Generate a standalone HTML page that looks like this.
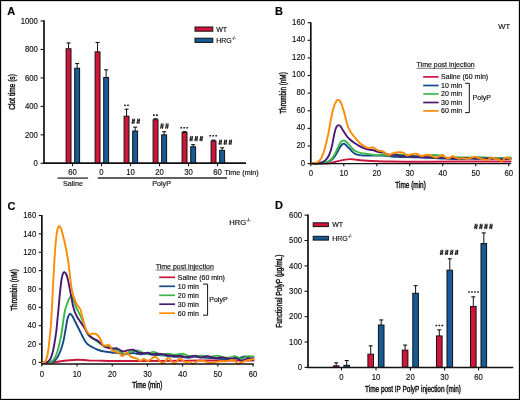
<!DOCTYPE html>
<html><head><meta charset="utf-8"><style>
html,body{margin:0;padding:0;background:#fff;}
body{width:520px;height:400px;overflow:hidden;}
svg{display:block;font-family:"Liberation Sans", sans-serif;will-change:transform;}
text{stroke:currentColor;stroke-width:0.15px;paint-order:stroke;}
text.ttl{stroke-width:0.4px;}
</style></head><body>
<svg width="520" height="400" viewBox="0 0 520 400">
<rect x="0" y="0" width="520" height="400" fill="#fff"/>
<text x="7.30" y="15.20" font-size="11" text-anchor="start" fill="#000" font-weight="bold" >A</text>
<line x1="44.00" y1="20.30" x2="44.00" y2="164.00" stroke="#111" stroke-width="1.7"/>
<line x1="43.20" y1="163.30" x2="246.00" y2="163.30" stroke="#111" stroke-width="1.5"/>
<line x1="40.60" y1="163.30" x2="44.00" y2="163.30" stroke="#111" stroke-width="1.1"/>
<text x="37.90" y="166.10" font-size="8.5" text-anchor="end" fill="#111" textLength="4.30" lengthAdjust="spacingAndGlyphs" >0</text>
<line x1="40.60" y1="134.84" x2="44.00" y2="134.84" stroke="#111" stroke-width="1.1"/>
<text x="37.90" y="137.64" font-size="8.5" text-anchor="end" fill="#111" textLength="12.90" lengthAdjust="spacingAndGlyphs" >200</text>
<line x1="40.60" y1="106.38" x2="44.00" y2="106.38" stroke="#111" stroke-width="1.1"/>
<text x="37.90" y="109.18" font-size="8.5" text-anchor="end" fill="#111" textLength="12.90" lengthAdjust="spacingAndGlyphs" >400</text>
<line x1="40.60" y1="77.92" x2="44.00" y2="77.92" stroke="#111" stroke-width="1.1"/>
<text x="37.90" y="80.72" font-size="8.5" text-anchor="end" fill="#111" textLength="12.90" lengthAdjust="spacingAndGlyphs" >600</text>
<line x1="40.60" y1="49.46" x2="44.00" y2="49.46" stroke="#111" stroke-width="1.1"/>
<text x="37.90" y="52.26" font-size="8.5" text-anchor="end" fill="#111" textLength="12.90" lengthAdjust="spacingAndGlyphs" >800</text>
<line x1="40.60" y1="21.00" x2="44.00" y2="21.00" stroke="#111" stroke-width="1.1"/>
<text x="37.90" y="23.80" font-size="8.5" text-anchor="end" fill="#111" textLength="17.20" lengthAdjust="spacingAndGlyphs" >1000</text>
<text class="ttl" transform="translate(15.00,91.90) rotate(-90)" x="0" y="0" font-size="9" text-anchor="middle" fill="#111" textLength="35.5" lengthAdjust="spacingAndGlyphs">Clot time (s)</text>
<line x1="72.50" y1="163.30" x2="72.50" y2="166.20" stroke="#111" stroke-width="1.1"/>
<text x="72.50" y="175.00" font-size="8.5" text-anchor="middle" fill="#111" textLength="8.60" lengthAdjust="spacingAndGlyphs" >60</text>
<line x1="68.55" y1="48.75" x2="68.55" y2="42.91" stroke="#111" stroke-width="1"/>
<line x1="66.55" y1="42.91" x2="70.55" y2="42.91" stroke="#111" stroke-width="1.1"/>
<rect x="66.10" y="48.75" width="4.9" height="114.55" fill="#D3143A" stroke="#111" stroke-width="1"/>
<line x1="77.15" y1="68.24" x2="77.15" y2="63.55" stroke="#111" stroke-width="1"/>
<line x1="75.15" y1="63.55" x2="79.15" y2="63.55" stroke="#111" stroke-width="1.1"/>
<rect x="74.70" y="68.24" width="4.9" height="95.06" fill="#175A95" stroke="#111" stroke-width="1"/>
<line x1="101.50" y1="163.30" x2="101.50" y2="166.20" stroke="#111" stroke-width="1.1"/>
<text x="101.50" y="175.00" font-size="8.5" text-anchor="middle" fill="#111" textLength="4.30" lengthAdjust="spacingAndGlyphs" >0</text>
<line x1="97.55" y1="51.88" x2="97.55" y2="42.49" stroke="#111" stroke-width="1"/>
<line x1="95.55" y1="42.49" x2="99.55" y2="42.49" stroke="#111" stroke-width="1.1"/>
<rect x="95.10" y="51.88" width="4.9" height="111.42" fill="#D3143A" stroke="#111" stroke-width="1"/>
<line x1="106.15" y1="77.49" x2="106.15" y2="69.81" stroke="#111" stroke-width="1"/>
<line x1="104.15" y1="69.81" x2="108.15" y2="69.81" stroke="#111" stroke-width="1.1"/>
<rect x="103.70" y="77.49" width="4.9" height="85.81" fill="#175A95" stroke="#111" stroke-width="1"/>
<line x1="130.50" y1="163.30" x2="130.50" y2="166.20" stroke="#111" stroke-width="1.1"/>
<text x="130.50" y="175.00" font-size="8.5" text-anchor="middle" fill="#111" textLength="8.60" lengthAdjust="spacingAndGlyphs" >10</text>
<line x1="126.55" y1="116.20" x2="126.55" y2="109.23" stroke="#111" stroke-width="1"/>
<line x1="124.55" y1="109.23" x2="128.55" y2="109.23" stroke="#111" stroke-width="1.1"/>
<rect x="124.10" y="116.20" width="4.9" height="47.10" fill="#D3143A" stroke="#111" stroke-width="1"/>
<line x1="135.15" y1="131.00" x2="135.15" y2="127.16" stroke="#111" stroke-width="1"/>
<line x1="133.15" y1="127.16" x2="137.15" y2="127.16" stroke="#111" stroke-width="1.1"/>
<rect x="132.70" y="131.00" width="4.9" height="32.30" fill="#175A95" stroke="#111" stroke-width="1"/>
<line x1="159.50" y1="163.30" x2="159.50" y2="166.20" stroke="#111" stroke-width="1.1"/>
<text x="159.50" y="175.00" font-size="8.5" text-anchor="middle" fill="#111" textLength="8.60" lengthAdjust="spacingAndGlyphs" >20</text>
<line x1="155.55" y1="119.76" x2="155.55" y2="118.76" stroke="#111" stroke-width="1"/>
<line x1="153.55" y1="118.76" x2="157.55" y2="118.76" stroke="#111" stroke-width="1.1"/>
<rect x="153.10" y="119.76" width="4.9" height="43.54" fill="#D3143A" stroke="#111" stroke-width="1"/>
<line x1="164.15" y1="134.84" x2="164.15" y2="131.71" stroke="#111" stroke-width="1"/>
<line x1="162.15" y1="131.71" x2="166.15" y2="131.71" stroke="#111" stroke-width="1.1"/>
<rect x="161.70" y="134.84" width="4.9" height="28.46" fill="#175A95" stroke="#111" stroke-width="1"/>
<line x1="188.50" y1="163.30" x2="188.50" y2="166.20" stroke="#111" stroke-width="1.1"/>
<text x="188.50" y="175.00" font-size="8.5" text-anchor="middle" fill="#111" textLength="8.60" lengthAdjust="spacingAndGlyphs" >30</text>
<line x1="184.55" y1="132.56" x2="184.55" y2="131.57" stroke="#111" stroke-width="1"/>
<line x1="182.55" y1="131.57" x2="186.55" y2="131.57" stroke="#111" stroke-width="1.1"/>
<rect x="182.10" y="132.56" width="4.9" height="30.74" fill="#D3143A" stroke="#111" stroke-width="1"/>
<line x1="193.15" y1="146.79" x2="193.15" y2="144.66" stroke="#111" stroke-width="1"/>
<line x1="191.15" y1="144.66" x2="195.15" y2="144.66" stroke="#111" stroke-width="1.1"/>
<rect x="190.70" y="146.79" width="4.9" height="16.51" fill="#175A95" stroke="#111" stroke-width="1"/>
<line x1="217.50" y1="163.30" x2="217.50" y2="166.20" stroke="#111" stroke-width="1.1"/>
<text x="217.50" y="175.00" font-size="8.5" text-anchor="middle" fill="#111" textLength="8.60" lengthAdjust="spacingAndGlyphs" >60</text>
<line x1="213.55" y1="140.96" x2="213.55" y2="140.11" stroke="#111" stroke-width="1"/>
<line x1="211.55" y1="140.11" x2="215.55" y2="140.11" stroke="#111" stroke-width="1.1"/>
<rect x="211.10" y="140.96" width="4.9" height="22.34" fill="#D3143A" stroke="#111" stroke-width="1"/>
<line x1="222.15" y1="150.35" x2="222.15" y2="147.79" stroke="#111" stroke-width="1"/>
<line x1="220.15" y1="147.79" x2="224.15" y2="147.79" stroke="#111" stroke-width="1.1"/>
<rect x="219.70" y="150.35" width="4.9" height="12.95" fill="#175A95" stroke="#111" stroke-width="1"/>
<line x1="43.20" y1="163.30" x2="246.00" y2="163.30" stroke="#111" stroke-width="1.5"/>
<text x="224.60" y="174.90" font-size="7.2" text-anchor="start" fill="#111" >Time (min)</text>
<line x1="57.50" y1="178.10" x2="88.10" y2="178.10" stroke="#2a2a2a" stroke-width="1.3"/>
<line x1="97.80" y1="178.00" x2="227.00" y2="178.00" stroke="#2a2a2a" stroke-width="1.3"/>
<text x="72.90" y="186.40" font-size="7.2" text-anchor="middle" fill="#111" >Saline</text>
<text x="161.60" y="186.40" font-size="7.2" text-anchor="middle" fill="#111" >PolyP</text>
<rect x="124.05" y="104.55" width="1.8" height="1.53" rx="0.5" fill="#1a1a1a"/>
<rect x="127.05" y="104.55" width="1.8" height="1.53" rx="0.5" fill="#1a1a1a"/>
<rect x="153.00" y="114.35" width="1.8" height="1.53" rx="0.5" fill="#1a1a1a"/>
<rect x="156.00" y="114.35" width="1.8" height="1.53" rx="0.5" fill="#1a1a1a"/>
<rect x="180.30" y="126.95" width="1.8" height="1.53" rx="0.5" fill="#1a1a1a"/>
<rect x="183.30" y="126.95" width="1.8" height="1.53" rx="0.5" fill="#1a1a1a"/>
<rect x="186.30" y="126.95" width="1.8" height="1.53" rx="0.5" fill="#1a1a1a"/>
<rect x="209.30" y="134.95" width="1.8" height="1.53" rx="0.5" fill="#1a1a1a"/>
<rect x="212.30" y="134.95" width="1.8" height="1.53" rx="0.5" fill="#1a1a1a"/>
<rect x="215.30" y="134.95" width="1.8" height="1.53" rx="0.5" fill="#1a1a1a"/>
<path d="M132.80,118.60L132.20,123.90M134.50,118.60L133.90,123.90M132.10,120.40H135.10M131.50,122.20H134.80M137.80,118.60L137.20,123.90M139.50,118.60L138.90,123.90M137.10,120.40H140.10M136.50,122.20H139.80" stroke="#2a2a2a" stroke-width="1.15" fill="none"/>
<path d="M161.40,123.40L160.80,128.70M163.10,123.40L162.50,128.70M160.70,125.20H163.70M160.10,127.00H163.40M166.40,123.40L165.80,128.70M168.10,123.40L167.50,128.70M165.70,125.20H168.70M165.10,127.00H168.40" stroke="#2a2a2a" stroke-width="1.15" fill="none"/>
<path d="M190.70,136.00L190.10,141.30M192.40,136.00L191.80,141.30M190.00,137.80H193.00M189.40,139.60H192.70M195.70,136.00L195.10,141.30M197.40,136.00L196.80,141.30M195.00,137.80H198.00M194.40,139.60H197.70M200.70,136.00L200.10,141.30M202.40,136.00L201.80,141.30M200.00,137.80H203.00M199.40,139.60H202.70" stroke="#2a2a2a" stroke-width="1.15" fill="none"/>
<path d="M219.80,139.60L219.20,144.90M221.50,139.60L220.90,144.90M219.10,141.40H222.10M218.50,143.20H221.80M224.80,139.60L224.20,144.90M226.50,139.60L225.90,144.90M224.10,141.40H227.10M223.50,143.20H226.80M229.80,139.60L229.20,144.90M231.50,139.60L230.90,144.90M229.10,141.40H232.10M228.50,143.20H231.80" stroke="#2a2a2a" stroke-width="1.15" fill="none"/>
<rect x="195" y="27" width="17.8" height="4.2" fill="#D3143A" stroke="#111" stroke-width="1"/>
<rect x="195" y="38.2" width="17.8" height="4.2" fill="#175A95" stroke="#111" stroke-width="1"/>
<text x="216.20" y="31.60" font-size="7" text-anchor="start" fill="#111" >WT</text>
<text x="216.20" y="42.80" font-size="7" text-anchor="start" fill="#111" >HRG<tspan font-size="4.5" dy="-3">-/-</tspan></text>
<text x="274.90" y="15.00" font-size="11" text-anchor="start" fill="#000" font-weight="bold" >B</text>
<line x1="310.80" y1="22.30" x2="310.80" y2="164.30" stroke="#111" stroke-width="1.7"/>
<line x1="307.60" y1="163.60" x2="310.80" y2="163.60" stroke="#111" stroke-width="1.1"/>
<text x="305.00" y="165.50" font-size="8.5" text-anchor="end" fill="#111" textLength="4.30" lengthAdjust="spacingAndGlyphs" >0</text>
<line x1="307.60" y1="145.99" x2="310.80" y2="145.99" stroke="#111" stroke-width="1.1"/>
<text x="305.00" y="147.89" font-size="8.5" text-anchor="end" fill="#111" textLength="8.60" lengthAdjust="spacingAndGlyphs" >20</text>
<line x1="307.60" y1="128.38" x2="310.80" y2="128.38" stroke="#111" stroke-width="1.1"/>
<text x="305.00" y="130.28" font-size="8.5" text-anchor="end" fill="#111" textLength="8.60" lengthAdjust="spacingAndGlyphs" >40</text>
<line x1="307.60" y1="110.76" x2="310.80" y2="110.76" stroke="#111" stroke-width="1.1"/>
<text x="305.00" y="112.66" font-size="8.5" text-anchor="end" fill="#111" textLength="8.60" lengthAdjust="spacingAndGlyphs" >60</text>
<line x1="307.60" y1="93.15" x2="310.80" y2="93.15" stroke="#111" stroke-width="1.1"/>
<text x="305.00" y="95.05" font-size="8.5" text-anchor="end" fill="#111" textLength="8.60" lengthAdjust="spacingAndGlyphs" >80</text>
<line x1="307.60" y1="75.54" x2="310.80" y2="75.54" stroke="#111" stroke-width="1.1"/>
<text x="305.00" y="77.44" font-size="8.5" text-anchor="end" fill="#111" textLength="12.90" lengthAdjust="spacingAndGlyphs" >100</text>
<line x1="307.60" y1="57.93" x2="310.80" y2="57.93" stroke="#111" stroke-width="1.1"/>
<text x="305.00" y="59.83" font-size="8.5" text-anchor="end" fill="#111" textLength="12.90" lengthAdjust="spacingAndGlyphs" >120</text>
<line x1="307.60" y1="40.32" x2="310.80" y2="40.32" stroke="#111" stroke-width="1.1"/>
<text x="305.00" y="42.22" font-size="8.5" text-anchor="end" fill="#111" textLength="12.90" lengthAdjust="spacingAndGlyphs" >140</text>
<line x1="307.60" y1="22.70" x2="310.80" y2="22.70" stroke="#111" stroke-width="1.1"/>
<text x="305.00" y="24.60" font-size="8.5" text-anchor="end" fill="#111" textLength="12.90" lengthAdjust="spacingAndGlyphs" >160</text>
<line x1="310.80" y1="163.60" x2="310.80" y2="166.30" stroke="#111" stroke-width="1.1"/>
<text x="310.80" y="175.60" font-size="8.5" text-anchor="middle" fill="#111" textLength="4.30" lengthAdjust="spacingAndGlyphs" >0</text>
<line x1="343.78" y1="163.60" x2="343.78" y2="166.30" stroke="#111" stroke-width="1.1"/>
<text x="343.78" y="175.60" font-size="8.5" text-anchor="middle" fill="#111" textLength="8.60" lengthAdjust="spacingAndGlyphs" >10</text>
<line x1="376.76" y1="163.60" x2="376.76" y2="166.30" stroke="#111" stroke-width="1.1"/>
<text x="376.76" y="175.60" font-size="8.5" text-anchor="middle" fill="#111" textLength="8.60" lengthAdjust="spacingAndGlyphs" >20</text>
<line x1="409.74" y1="163.60" x2="409.74" y2="166.30" stroke="#111" stroke-width="1.1"/>
<text x="409.74" y="175.60" font-size="8.5" text-anchor="middle" fill="#111" textLength="8.60" lengthAdjust="spacingAndGlyphs" >30</text>
<line x1="442.72" y1="163.60" x2="442.72" y2="166.30" stroke="#111" stroke-width="1.1"/>
<text x="442.72" y="175.60" font-size="8.5" text-anchor="middle" fill="#111" textLength="8.60" lengthAdjust="spacingAndGlyphs" >40</text>
<line x1="475.70" y1="163.60" x2="475.70" y2="166.30" stroke="#111" stroke-width="1.1"/>
<text x="475.70" y="175.60" font-size="8.5" text-anchor="middle" fill="#111" textLength="8.60" lengthAdjust="spacingAndGlyphs" >50</text>
<line x1="508.68" y1="163.60" x2="508.68" y2="166.30" stroke="#111" stroke-width="1.1"/>
<text x="508.68" y="175.60" font-size="8.5" text-anchor="middle" fill="#111" textLength="8.60" lengthAdjust="spacingAndGlyphs" >60</text>
<text class="ttl" transform="translate(286.20,93.00) rotate(-90)" x="0" y="0" font-size="9" text-anchor="middle" fill="#111" textLength="41.5" lengthAdjust="spacingAndGlyphs">Thrombin (nM)</text>
<text x="410.60" y="188.20" font-size="9" text-anchor="middle" fill="#111" textLength="30.5" lengthAdjust="spacingAndGlyphs" class="ttl">Time (min)</text>
<text x="498.30" y="28.50" font-size="7.6" text-anchor="start" fill="#111" >WT</text>
<path d="M311.50,163.60 C314.07,163.60 323.40,163.78 326.90,163.60 C330.40,163.42 330.63,162.92 332.50,162.50 C334.37,162.08 336.23,161.53 338.10,161.10 C339.98,160.67 341.77,160.23 343.75,159.90 C345.73,159.57 348.33,159.18 350.00,159.10 C351.67,159.02 352.08,159.22 353.75,159.40 C355.42,159.58 357.71,159.97 360.00,160.20 C362.29,160.43 364.58,160.63 367.50,160.80 C370.42,160.97 373.75,161.08 377.50,161.20 C381.25,161.32 384.75,161.42 390.00,161.50 C395.25,161.58 402.33,161.67 409.00,161.70 C415.67,161.73 419.83,161.73 430.00,161.70 C440.17,161.67 456.57,161.53 470.00,161.50 C483.43,161.47 503.83,161.50 510.60,161.50" fill="none" stroke="#C8163C" stroke-width="1.9" stroke-linejoin="round" stroke-linecap="round"/>
<path d="M311.50,163.60 C313.32,163.55 319.83,163.53 322.40,163.30 C324.97,163.07 325.50,162.67 326.90,162.20 C328.30,161.73 329.58,161.35 330.80,160.50 C332.02,159.65 333.17,158.42 334.20,157.10 C335.23,155.78 336.07,154.18 337.00,152.60 C337.93,151.02 338.95,148.95 339.80,147.60 C340.65,146.25 341.48,145.17 342.10,144.50 C342.72,143.83 342.95,143.60 343.50,143.60 C344.05,143.60 344.70,143.93 345.40,144.50 C346.10,145.07 347.03,146.33 347.70,147.00 C348.37,147.67 348.60,147.68 349.40,148.50 C350.20,149.32 351.36,150.92 352.50,151.90 C353.64,152.88 354.79,153.82 356.25,154.40 C357.71,154.98 359.38,155.20 361.25,155.40 C363.12,155.60 365.21,155.57 367.50,155.60 C369.79,155.63 372.50,155.60 375.00,155.60 C377.50,155.60 380.00,155.49 382.50,155.60 C385.00,155.71 387.92,156.03 390.00,156.25 C392.08,156.47 392.25,156.78 395.00,156.90 C397.75,157.03 402.67,156.93 406.50,157.00 C410.33,157.07 414.15,157.15 418.00,157.30 C421.85,157.45 425.75,157.70 429.60,157.90 C433.45,158.10 436.87,158.32 441.10,158.50 C445.33,158.68 450.18,159.00 455.00,159.00 C459.82,159.00 465.00,158.52 470.00,158.50 C475.00,158.48 480.33,158.93 485.00,158.90 C489.67,158.87 493.73,158.35 498.00,158.30 C502.27,158.25 508.50,158.55 510.60,158.60" fill="none" stroke="#154A88" stroke-width="1.9" stroke-linejoin="round" stroke-linecap="round"/>
<path d="M311.50,163.60 C313.12,163.55 318.88,163.53 321.25,163.30 C323.62,163.07 324.34,162.67 325.75,162.20 C327.16,161.73 328.47,161.35 329.70,160.50 C330.93,159.65 332.07,158.50 333.10,157.10 C334.13,155.70 334.97,153.97 335.90,152.10 C336.83,150.23 337.87,147.60 338.70,145.90 C339.53,144.20 340.15,142.78 340.90,141.90 C341.65,141.02 342.45,140.73 343.20,140.60 C343.95,140.47 344.65,140.68 345.40,141.10 C346.15,141.52 347.03,142.45 347.70,143.10 C348.37,143.75 348.60,144.06 349.40,145.00 C350.20,145.94 351.36,147.67 352.50,148.75 C353.64,149.83 354.79,150.78 356.25,151.50 C357.71,152.22 359.58,152.72 361.25,153.10 C362.92,153.47 364.38,153.47 366.25,153.75 C368.12,154.03 370.62,154.50 372.50,154.75 C374.38,155.00 376.04,155.25 377.50,155.25 C378.96,155.25 380.00,154.79 381.25,154.75 C382.50,154.71 383.54,154.86 385.00,155.00 C386.46,155.14 388.33,155.68 390.00,155.60 C391.67,155.52 392.25,154.60 395.00,154.50 C397.75,154.40 402.67,154.73 406.50,155.00 C410.33,155.27 413.58,156.10 418.00,156.10 C422.42,156.10 429.15,155.08 433.00,155.00 C436.85,154.92 438.77,155.12 441.10,155.60 C443.43,156.08 444.68,157.62 447.00,157.90 C449.32,158.18 452.00,157.37 455.00,157.30 C458.00,157.23 461.17,157.52 465.00,157.50 C468.83,157.48 473.83,157.18 478.00,157.20 C482.17,157.22 486.33,157.42 490.00,157.60 C493.67,157.78 496.57,158.32 500.00,158.30 C503.43,158.28 508.83,157.63 510.60,157.50" fill="none" stroke="#3CB64B" stroke-width="1.9" stroke-linejoin="round" stroke-linecap="round"/>
<path d="M311.50,163.60 C312.57,163.55 316.08,163.53 317.90,163.30 C319.72,163.07 321.09,162.77 322.40,162.20 C323.71,161.63 324.72,160.93 325.75,159.90 C326.78,158.87 327.76,157.58 328.60,156.00 C329.44,154.42 330.15,152.47 330.80,150.40 C331.45,148.33 331.97,146.08 332.50,143.60 C333.03,141.12 333.53,137.77 334.00,135.50 C334.47,133.23 334.82,131.55 335.30,130.00 C335.78,128.45 336.32,127.02 336.90,126.20 C337.47,125.38 338.13,125.07 338.75,125.10 C339.37,125.13 339.98,125.67 340.60,126.40 C341.23,127.13 341.77,128.32 342.50,129.50 C343.23,130.68 344.17,132.25 345.00,133.50 C345.83,134.75 346.67,136.00 347.50,137.00 C348.33,138.00 348.96,138.58 350.00,139.50 C351.04,140.42 352.29,141.48 353.75,142.50 C355.21,143.52 357.08,144.67 358.75,145.60 C360.42,146.53 362.29,147.47 363.75,148.10 C365.21,148.73 366.04,149.08 367.50,149.40 C368.96,149.72 371.04,149.69 372.50,150.00 C373.96,150.31 375.00,150.88 376.25,151.25 C377.50,151.62 378.75,152.04 380.00,152.25 C381.25,152.46 382.50,152.14 383.75,152.50 C385.00,152.86 386.25,153.98 387.50,154.40 C388.75,154.82 390.00,154.94 391.25,155.00 C392.50,155.06 393.54,154.65 395.00,154.75 C396.46,154.85 398.08,155.38 400.00,155.60 C401.92,155.82 403.50,155.92 406.50,156.10 C409.50,156.28 414.15,156.50 418.00,156.70 C421.85,156.90 425.75,157.10 429.60,157.30 C433.45,157.50 437.25,157.70 441.10,157.90 C444.95,158.10 448.72,158.45 452.70,158.50 C456.68,158.55 460.78,158.18 465.00,158.20 C469.22,158.22 473.83,158.57 478.00,158.60 C482.17,158.63 486.33,158.30 490.00,158.40 C493.67,158.50 496.57,159.13 500.00,159.20 C503.43,159.27 508.83,158.87 510.60,158.80" fill="none" stroke="#481B70" stroke-width="1.9" stroke-linejoin="round" stroke-linecap="round"/>
<path d="M311.50,163.60 C311.82,163.55 312.52,163.48 313.40,163.30 C314.27,163.12 315.72,162.97 316.75,162.50 C317.78,162.03 318.76,161.40 319.60,160.50 C320.44,159.60 321.15,158.42 321.80,157.10 C322.45,155.78 322.93,154.28 323.50,152.60 C324.07,150.92 324.63,149.06 325.20,147.00 C325.77,144.94 326.33,142.68 326.90,140.25 C327.47,137.82 328.07,135.11 328.60,132.40 C329.13,129.69 329.55,126.98 330.10,124.00 C330.65,121.02 331.29,117.33 331.90,114.50 C332.51,111.67 333.13,108.98 333.75,107.00 C334.37,105.02 334.98,103.75 335.60,102.60 C336.23,101.45 336.93,100.52 337.50,100.10 C338.07,99.68 338.48,99.78 339.00,100.10 C339.52,100.42 340.02,100.85 340.60,102.00 C341.18,103.15 341.87,105.12 342.50,107.00 C343.13,108.88 343.77,110.96 344.40,113.25 C345.02,115.54 345.63,118.46 346.25,120.75 C346.87,123.04 347.48,125.33 348.10,127.00 C348.73,128.67 349.27,129.50 350.00,130.75 C350.73,132.00 351.57,133.21 352.50,134.50 C353.43,135.79 354.56,137.25 355.60,138.50 C356.64,139.75 357.60,140.92 358.75,142.00 C359.90,143.08 361.25,144.12 362.50,145.00 C363.75,145.88 365.10,146.73 366.25,147.25 C367.40,147.77 368.36,148.10 369.40,148.10 C370.44,148.10 371.47,147.10 372.50,147.25 C373.53,147.40 374.56,148.44 375.60,149.00 C376.64,149.56 377.60,150.22 378.75,150.60 C379.90,150.97 381.46,150.83 382.50,151.25 C383.54,151.67 383.96,152.43 385.00,153.10 C386.04,153.77 387.50,155.18 388.75,155.25 C390.00,155.32 391.25,153.96 392.50,153.50 C393.75,153.04 394.58,152.67 396.25,152.50 C397.92,152.33 400.98,152.18 402.50,152.50 C404.02,152.82 404.53,153.88 405.40,154.40 C406.27,154.92 406.75,155.60 407.70,155.60 C408.65,155.60 409.85,154.73 411.10,154.40 C412.35,154.07 414.03,153.60 415.20,153.60 C416.37,153.60 417.05,153.98 418.10,154.40 C419.15,154.82 420.17,156.00 421.50,156.10 C422.83,156.20 424.75,155.18 426.10,155.00 C427.45,154.82 428.43,154.72 429.60,155.00 C430.77,155.28 431.95,156.28 433.10,156.70 C434.25,157.12 435.35,157.60 436.50,157.50 C437.65,157.40 439.03,156.55 440.00,156.10 C440.97,155.65 441.53,154.70 442.30,154.80 C443.07,154.90 443.65,156.08 444.60,156.70 C445.55,157.32 446.68,158.57 448.00,158.50 C449.32,158.43 451.23,156.42 452.50,156.25 C453.77,156.08 454.56,157.08 455.60,157.50 C456.64,157.92 457.60,158.65 458.75,158.75 C459.90,158.85 461.25,158.10 462.50,158.10 C463.75,158.10 465.00,158.75 466.25,158.75 C467.50,158.75 468.54,158.41 470.00,158.10 C471.46,157.79 473.54,156.90 475.00,156.90 C476.46,156.90 477.29,157.68 478.75,158.10 C480.21,158.52 482.29,159.08 483.75,159.40 C485.21,159.72 486.25,160.32 487.50,160.00 C488.75,159.68 490.00,157.71 491.25,157.50 C492.50,157.29 493.75,158.43 495.00,158.75 C496.25,159.07 497.60,159.03 498.75,159.40 C499.90,159.78 500.86,161.22 501.90,161.00 C502.94,160.78 504.07,158.68 505.00,158.10 C505.93,157.52 506.57,157.28 507.50,157.50 C508.43,157.72 510.08,159.08 510.60,159.40" fill="none" stroke="#FF8A05" stroke-width="1.9" stroke-linejoin="round" stroke-linecap="round"/>
<line x1="310.00" y1="163.60" x2="511.00" y2="163.60" stroke="#111" stroke-width="1.4"/>
<text x="416.60" y="67.20" font-size="7" text-anchor="start" fill="#111" >Time post injection</text>
<line x1="416.60" y1="68.30" x2="474.60" y2="68.30" stroke="#333" stroke-width="0.7"/>
<line x1="423.20" y1="76.90" x2="438.60" y2="76.90" stroke="#C8163C" stroke-width="1.7"/>
<text x="441.10" y="79.30" font-size="7" text-anchor="start" fill="#111" >Saline (60 min)</text>
<line x1="423.20" y1="85.50" x2="438.60" y2="85.50" stroke="#154A88" stroke-width="1.7"/>
<text x="441.10" y="87.90" font-size="7" text-anchor="start" fill="#111" >10 min</text>
<line x1="423.20" y1="94.00" x2="438.60" y2="94.00" stroke="#3CB64B" stroke-width="1.7"/>
<text x="441.10" y="96.40" font-size="7" text-anchor="start" fill="#111" >20 min</text>
<line x1="423.20" y1="102.50" x2="438.60" y2="102.50" stroke="#481B70" stroke-width="1.7"/>
<text x="441.10" y="104.90" font-size="7" text-anchor="start" fill="#111" >30 min</text>
<line x1="423.20" y1="110.90" x2="438.60" y2="110.90" stroke="#FF8A05" stroke-width="1.7"/>
<text x="441.10" y="113.30" font-size="7" text-anchor="start" fill="#111" >60 min</text>
<path d="M465.1,83.3 H469.3 V112.6 H465.1" fill="none" stroke="#111" stroke-width="1"/>
<text x="472.60" y="100.30" font-size="7" text-anchor="start" fill="#111" >PolyP</text>
<text x="7.50" y="209.70" font-size="11" text-anchor="start" fill="#000" font-weight="bold" >C</text>
<line x1="41.85" y1="215.00" x2="41.85" y2="364.60" stroke="#111" stroke-width="1.7"/>
<line x1="38.70" y1="362.40" x2="41.85" y2="362.40" stroke="#111" stroke-width="1.1"/>
<text x="36.20" y="365.20" font-size="8.5" text-anchor="end" fill="#111" textLength="4.30" lengthAdjust="spacingAndGlyphs" >0</text>
<line x1="38.70" y1="344.04" x2="41.85" y2="344.04" stroke="#111" stroke-width="1.1"/>
<text x="36.20" y="346.84" font-size="8.5" text-anchor="end" fill="#111" textLength="8.60" lengthAdjust="spacingAndGlyphs" >20</text>
<line x1="38.70" y1="325.68" x2="41.85" y2="325.68" stroke="#111" stroke-width="1.1"/>
<text x="36.20" y="328.48" font-size="8.5" text-anchor="end" fill="#111" textLength="8.60" lengthAdjust="spacingAndGlyphs" >40</text>
<line x1="38.70" y1="307.32" x2="41.85" y2="307.32" stroke="#111" stroke-width="1.1"/>
<text x="36.20" y="310.12" font-size="8.5" text-anchor="end" fill="#111" textLength="8.60" lengthAdjust="spacingAndGlyphs" >60</text>
<line x1="38.70" y1="288.96" x2="41.85" y2="288.96" stroke="#111" stroke-width="1.1"/>
<text x="36.20" y="291.76" font-size="8.5" text-anchor="end" fill="#111" textLength="8.60" lengthAdjust="spacingAndGlyphs" >80</text>
<line x1="38.70" y1="270.60" x2="41.85" y2="270.60" stroke="#111" stroke-width="1.1"/>
<text x="36.20" y="273.40" font-size="8.5" text-anchor="end" fill="#111" textLength="12.90" lengthAdjust="spacingAndGlyphs" >100</text>
<line x1="38.70" y1="252.24" x2="41.85" y2="252.24" stroke="#111" stroke-width="1.1"/>
<text x="36.20" y="255.04" font-size="8.5" text-anchor="end" fill="#111" textLength="12.90" lengthAdjust="spacingAndGlyphs" >120</text>
<line x1="38.70" y1="233.88" x2="41.85" y2="233.88" stroke="#111" stroke-width="1.1"/>
<text x="36.20" y="236.68" font-size="8.5" text-anchor="end" fill="#111" textLength="12.90" lengthAdjust="spacingAndGlyphs" >140</text>
<line x1="38.70" y1="215.52" x2="41.85" y2="215.52" stroke="#111" stroke-width="1.1"/>
<text x="36.20" y="218.32" font-size="8.5" text-anchor="end" fill="#111" textLength="12.90" lengthAdjust="spacingAndGlyphs" >160</text>
<line x1="41.85" y1="363.90" x2="41.85" y2="366.60" stroke="#111" stroke-width="1.1"/>
<text x="41.85" y="376.50" font-size="8.5" text-anchor="middle" fill="#111" textLength="4.30" lengthAdjust="spacingAndGlyphs" >0</text>
<line x1="77.05" y1="363.90" x2="77.05" y2="366.60" stroke="#111" stroke-width="1.1"/>
<text x="77.05" y="376.50" font-size="8.5" text-anchor="middle" fill="#111" textLength="8.60" lengthAdjust="spacingAndGlyphs" >10</text>
<line x1="112.25" y1="363.90" x2="112.25" y2="366.60" stroke="#111" stroke-width="1.1"/>
<text x="112.25" y="376.50" font-size="8.5" text-anchor="middle" fill="#111" textLength="8.60" lengthAdjust="spacingAndGlyphs" >20</text>
<line x1="147.45" y1="363.90" x2="147.45" y2="366.60" stroke="#111" stroke-width="1.1"/>
<text x="147.45" y="376.50" font-size="8.5" text-anchor="middle" fill="#111" textLength="8.60" lengthAdjust="spacingAndGlyphs" >30</text>
<line x1="182.65" y1="363.90" x2="182.65" y2="366.60" stroke="#111" stroke-width="1.1"/>
<text x="182.65" y="376.50" font-size="8.5" text-anchor="middle" fill="#111" textLength="8.60" lengthAdjust="spacingAndGlyphs" >40</text>
<line x1="217.85" y1="363.90" x2="217.85" y2="366.60" stroke="#111" stroke-width="1.1"/>
<text x="217.85" y="376.50" font-size="8.5" text-anchor="middle" fill="#111" textLength="8.60" lengthAdjust="spacingAndGlyphs" >50</text>
<line x1="253.05" y1="363.90" x2="253.05" y2="366.60" stroke="#111" stroke-width="1.1"/>
<text x="253.05" y="376.50" font-size="8.5" text-anchor="middle" fill="#111" textLength="8.60" lengthAdjust="spacingAndGlyphs" >60</text>
<text class="ttl" transform="translate(17.10,290.00) rotate(-90)" x="0" y="0" font-size="9" text-anchor="middle" fill="#111" textLength="41.5" lengthAdjust="spacingAndGlyphs">Thrombin (nM)</text>
<text x="147.30" y="388.20" font-size="9" text-anchor="middle" fill="#111" textLength="30.3" lengthAdjust="spacingAndGlyphs" class="ttl">Time (min)</text>
<text x="229.30" y="224.80" font-size="7.6" text-anchor="start" fill="#111" >HRG<tspan font-size="4.6" dy="-2.6">-/-</tspan></text>
<path d="M42.60,362.60 C43.10,362.60 44.16,362.62 45.60,362.60 C47.04,362.58 49.37,362.63 51.25,362.50 C53.13,362.37 55.02,362.05 56.90,361.80 C58.77,361.55 60.32,361.27 62.50,361.00 C64.68,360.73 67.58,360.40 70.00,360.20 C72.42,360.00 74.67,359.83 77.00,359.80 C79.33,359.77 81.83,359.87 84.00,360.00 C86.17,360.13 87.75,360.50 90.00,360.60 C92.25,360.70 93.33,360.53 97.50,360.60 C101.67,360.67 106.25,360.93 115.00,361.00 C123.75,361.07 135.83,361.08 150.00,361.00 C164.17,360.92 182.75,360.57 200.00,360.50 C217.25,360.43 244.58,360.58 253.50,360.60" fill="none" stroke="#C8163C" stroke-width="1.9" stroke-linejoin="round" stroke-linecap="round"/>
<path d="M42.60,362.60 C43.67,362.60 47.28,362.73 49.00,362.60 C50.72,362.47 51.58,362.53 52.90,361.80 C54.22,361.07 55.67,359.97 56.90,358.25 C58.12,356.53 59.22,354.12 60.25,351.50 C61.28,348.88 62.26,345.88 63.10,342.50 C63.94,339.12 64.65,334.83 65.30,331.25 C65.95,327.67 66.50,323.46 67.00,321.00 C67.50,318.54 67.78,317.70 68.30,316.50 C68.82,315.30 69.40,313.84 70.10,313.80 C70.80,313.76 71.68,315.01 72.50,316.25 C73.32,317.49 74.17,319.58 75.00,321.25 C75.83,322.92 76.67,324.58 77.50,326.25 C78.33,327.92 79.17,329.58 80.00,331.25 C80.83,332.92 81.67,334.62 82.50,336.25 C83.33,337.88 84.08,339.62 85.00,341.00 C85.92,342.38 86.75,343.46 88.00,344.50 C89.25,345.54 91.00,346.42 92.50,347.25 C94.00,348.08 95.50,348.88 97.00,349.50 C98.50,350.12 100.00,350.62 101.50,351.00 C103.00,351.38 104.58,351.55 106.00,351.75 C107.42,351.95 108.70,352.02 110.00,352.20 C111.30,352.38 112.53,352.70 113.80,352.80 C115.07,352.90 116.33,352.67 117.60,352.80 C118.87,352.93 120.13,353.37 121.40,353.60 C122.67,353.83 123.93,354.20 125.20,354.20 C126.47,354.20 127.73,353.80 129.00,353.60 C130.27,353.40 131.53,352.98 132.80,353.00 C134.07,353.02 135.33,353.50 136.60,353.70 C137.87,353.90 139.13,354.20 140.40,354.20 C141.67,354.20 142.93,353.75 144.20,353.70 C145.47,353.65 146.40,353.72 148.00,353.90 C149.60,354.08 151.30,354.55 153.80,354.80 C156.30,355.05 159.92,355.12 163.00,355.40 C166.08,355.68 169.22,356.22 172.30,356.50 C175.38,356.78 178.80,356.90 181.50,357.10 C184.20,357.30 186.25,357.73 188.50,357.70 C190.75,357.67 191.83,356.89 195.00,356.90 C198.17,356.91 203.33,357.44 207.50,357.75 C211.67,358.06 215.83,358.54 220.00,358.75 C224.17,358.96 228.96,359.21 232.50,359.00 C236.04,358.79 239.17,357.92 241.25,357.50 C243.33,357.08 243.54,356.29 245.00,356.50 C246.46,356.71 248.58,358.17 250.00,358.75 C251.42,359.33 252.92,359.79 253.50,360.00" fill="none" stroke="#154A88" stroke-width="1.9" stroke-linejoin="round" stroke-linecap="round"/>
<path d="M42.60,362.60 C43.48,362.60 46.46,362.77 47.90,362.60 C49.34,362.43 50.13,362.33 51.25,361.60 C52.37,360.88 53.58,359.93 54.60,358.25 C55.62,356.57 56.55,354.12 57.40,351.50 C58.25,348.88 58.95,345.88 59.70,342.50 C60.45,339.12 61.28,335.00 61.90,331.25 C62.52,327.50 62.90,323.38 63.40,320.00 C63.90,316.62 64.38,313.42 64.90,311.00 C65.42,308.58 65.86,307.42 66.50,305.50 C67.14,303.58 68.05,301.00 68.75,299.50 C69.45,298.00 70.08,296.83 70.70,296.50 C71.33,296.17 71.88,296.50 72.50,297.50 C73.12,298.50 73.78,300.83 74.40,302.50 C75.03,304.17 75.53,305.83 76.25,307.50 C76.97,309.17 77.92,310.83 78.75,312.50 C79.58,314.17 80.42,315.62 81.25,317.50 C82.08,319.38 83.04,321.92 83.75,323.75 C84.46,325.58 84.79,326.71 85.50,328.50 C86.21,330.29 87.08,333.00 88.00,334.50 C88.92,336.00 89.75,336.50 91.00,337.50 C92.25,338.50 94.00,339.50 95.50,340.50 C97.00,341.50 98.50,342.50 100.00,343.50 C101.50,344.50 102.83,345.87 104.50,346.50 C106.17,347.13 108.45,346.80 110.00,347.30 C111.55,347.80 112.53,349.07 113.80,349.50 C115.07,349.93 116.33,349.43 117.60,349.90 C118.87,350.37 120.13,351.58 121.40,352.30 C122.67,353.02 123.93,354.25 125.20,354.20 C126.47,354.15 127.73,352.47 129.00,352.00 C130.27,351.53 131.38,351.67 132.80,351.40 C134.22,351.13 136.23,350.40 137.50,350.40 C138.77,350.40 139.28,350.92 140.40,351.40 C141.52,351.88 143.02,352.90 144.20,353.30 C145.38,353.70 145.90,354.03 147.50,353.80 C149.10,353.57 151.58,351.73 153.80,351.90 C156.02,352.07 158.48,354.50 160.80,354.80 C163.12,355.10 165.40,353.70 167.70,353.70 C170.00,353.70 172.10,354.80 174.60,354.80 C177.10,354.80 180.38,353.50 182.70,353.70 C185.02,353.90 186.45,355.57 188.50,356.00 C190.55,356.43 192.67,356.32 195.00,356.25 C197.33,356.18 200.00,355.49 202.50,355.60 C205.00,355.71 207.50,356.90 210.00,356.90 C212.50,356.90 215.21,355.50 217.50,355.60 C219.79,355.70 221.67,357.18 223.75,357.50 C225.83,357.82 228.12,357.71 230.00,357.50 C231.88,357.29 233.12,356.04 235.00,356.25 C236.88,356.46 239.17,358.75 241.25,358.75 C243.33,358.75 245.46,356.62 247.50,356.25 C249.54,355.88 252.50,356.46 253.50,356.50" fill="none" stroke="#3CB64B" stroke-width="1.9" stroke-linejoin="round" stroke-linecap="round"/>
<path d="M42.60,362.60 C43.10,362.60 44.72,362.73 45.60,362.60 C46.48,362.47 47.05,362.53 47.90,361.80 C48.75,361.07 49.87,359.97 50.70,358.25 C51.53,356.53 52.25,354.12 52.90,351.50 C53.55,348.88 54.03,345.88 54.60,342.50 C55.17,339.12 55.80,335.33 56.30,331.25 C56.80,327.17 57.22,321.88 57.60,318.00 C57.98,314.12 58.24,311.83 58.60,308.00 C58.96,304.17 59.31,299.42 59.75,295.00 C60.19,290.58 60.75,285.00 61.25,281.50 C61.75,278.00 62.21,275.55 62.75,274.00 C63.29,272.45 63.88,272.07 64.50,272.20 C65.12,272.32 65.92,273.45 66.50,274.75 C67.08,276.05 67.45,277.62 68.00,280.00 C68.55,282.38 69.15,285.67 69.80,289.00 C70.45,292.33 71.35,297.12 71.90,300.00 C72.45,302.88 72.58,304.17 73.10,306.25 C73.62,308.33 74.27,310.62 75.00,312.50 C75.73,314.38 76.67,316.04 77.50,317.50 C78.33,318.96 79.17,320.00 80.00,321.25 C80.83,322.50 81.67,323.75 82.50,325.00 C83.33,326.25 84.17,327.40 85.00,328.75 C85.83,330.10 86.67,331.85 87.50,333.10 C88.33,334.35 88.96,335.31 90.00,336.25 C91.04,337.19 92.50,338.04 93.75,338.75 C95.00,339.46 96.46,339.83 97.50,340.50 C98.54,341.17 98.83,341.75 100.00,342.75 C101.17,343.75 103.00,345.59 104.50,346.50 C106.00,347.41 107.62,347.87 109.00,348.20 C110.38,348.53 111.68,348.50 112.80,348.50 C113.92,348.50 114.75,348.12 115.70,348.20 C116.65,348.28 117.55,348.55 118.50,349.00 C119.45,349.45 120.45,350.50 121.40,350.90 C122.35,351.30 123.25,351.48 124.20,351.40 C125.15,351.32 126.15,350.65 127.10,350.40 C128.05,350.15 128.95,350.00 129.90,349.90 C130.85,349.80 131.85,349.63 132.80,349.80 C133.75,349.97 134.65,350.43 135.60,350.90 C136.55,351.37 137.55,352.25 138.50,352.60 C139.45,352.95 140.35,352.88 141.30,353.00 C142.25,353.12 143.08,353.33 144.20,353.30 C145.32,353.27 146.78,352.65 148.00,352.80 C149.22,352.95 149.75,354.05 151.50,354.20 C153.25,354.35 156.18,353.60 158.50,353.70 C160.82,353.80 162.72,354.42 165.40,354.80 C168.08,355.18 171.92,355.80 174.60,356.00 C177.28,356.20 179.57,355.82 181.50,356.00 C183.43,356.18 184.65,357.02 186.20,357.10 C187.75,357.18 189.33,356.75 190.80,356.50 C192.27,356.25 193.47,355.43 195.00,355.60 C196.53,355.77 197.92,357.39 200.00,357.50 C202.08,357.61 205.00,356.15 207.50,356.25 C210.00,356.35 212.50,357.89 215.00,358.10 C217.50,358.31 220.00,357.39 222.50,357.50 C225.00,357.61 227.71,358.65 230.00,358.75 C232.29,358.85 234.38,357.79 236.25,358.10 C238.12,358.41 239.38,360.49 241.25,360.60 C243.12,360.71 245.46,359.17 247.50,358.75 C249.54,358.33 252.50,358.21 253.50,358.10" fill="none" stroke="#481B70" stroke-width="1.9" stroke-linejoin="round" stroke-linecap="round"/>
<path d="M42.60,362.60 C42.92,362.60 44.00,362.87 44.50,362.60 C45.00,362.33 45.18,361.92 45.60,361.00 C46.02,360.08 46.58,358.68 47.00,357.10 C47.42,355.52 47.73,353.93 48.10,351.50 C48.47,349.07 48.83,345.88 49.20,342.50 C49.58,339.12 50.03,334.67 50.35,331.25 C50.67,327.83 50.86,325.54 51.10,322.00 C51.34,318.46 51.55,314.50 51.80,310.00 C52.05,305.50 52.35,300.00 52.60,295.00 C52.85,290.00 53.03,285.00 53.30,280.00 C53.57,275.00 53.98,268.75 54.20,265.00 C54.42,261.25 54.38,260.83 54.60,257.50 C54.82,254.17 55.18,248.75 55.50,245.00 C55.82,241.25 56.17,237.60 56.50,235.00 C56.83,232.40 57.12,230.86 57.50,229.40 C57.88,227.94 58.40,226.78 58.75,226.25 C59.10,225.72 59.24,225.94 59.60,226.25 C59.96,226.56 60.48,227.16 60.90,228.10 C61.32,229.04 61.62,230.12 62.10,231.90 C62.58,233.68 63.23,236.57 63.75,238.75 C64.28,240.93 64.75,242.71 65.25,245.00 C65.75,247.29 66.29,250.00 66.75,252.50 C67.21,255.00 67.58,257.08 68.00,260.00 C68.42,262.92 68.87,266.50 69.30,270.00 C69.73,273.50 70.17,277.67 70.60,281.00 C71.03,284.33 71.48,287.67 71.90,290.00 C72.32,292.33 72.58,293.33 73.10,295.00 C73.62,296.67 74.37,298.43 75.00,300.00 C75.63,301.57 76.28,303.25 76.90,304.40 C77.53,305.55 78.13,305.97 78.75,306.90 C79.37,307.83 80.07,308.65 80.60,310.00 C81.12,311.35 81.48,313.33 81.90,315.00 C82.32,316.67 82.68,318.33 83.10,320.00 C83.52,321.67 83.98,323.54 84.40,325.00 C84.82,326.46 85.08,327.50 85.60,328.75 C86.12,330.00 86.77,331.56 87.50,332.50 C88.23,333.44 89.17,334.19 90.00,334.40 C90.83,334.61 91.67,333.86 92.50,333.75 C93.33,333.64 94.17,333.54 95.00,333.75 C95.83,333.96 96.77,334.38 97.50,335.00 C98.23,335.62 98.82,336.58 99.40,337.50 C99.98,338.42 100.40,339.25 101.00,340.50 C101.60,341.75 102.17,344.12 103.00,345.00 C103.83,345.88 105.12,345.80 106.00,345.75 C106.88,345.70 107.55,344.61 108.25,344.70 C108.95,344.79 109.59,345.42 110.20,346.30 C110.81,347.18 111.30,349.15 111.90,350.00 C112.50,350.85 113.02,351.10 113.80,351.40 C114.58,351.70 115.65,351.48 116.60,351.80 C117.55,352.12 118.55,352.58 119.50,353.30 C120.45,354.02 121.35,356.03 122.30,356.10 C123.25,356.17 124.40,354.25 125.20,353.70 C126.00,353.15 126.47,352.63 127.10,352.80 C127.73,352.97 128.37,354.07 129.00,354.70 C129.63,355.33 130.12,356.10 130.90,356.60 C131.68,357.10 132.75,357.38 133.70,357.70 C134.65,358.02 135.65,358.05 136.60,358.50 C137.55,358.95 138.62,360.05 139.40,360.40 C140.18,360.75 140.58,360.83 141.30,360.60 C142.02,360.37 142.90,359.07 143.70,359.00 C144.50,358.93 145.38,359.87 146.10,360.20 C146.82,360.53 147.10,361.23 148.00,361.00 C148.90,360.77 150.33,359.50 151.50,358.80 C152.67,358.10 153.83,356.70 155.00,356.80 C156.17,356.90 157.33,358.28 158.50,359.40 C159.67,360.52 160.85,363.20 162.00,363.50 C163.15,363.80 164.35,362.17 165.40,361.20 C166.45,360.23 167.33,357.80 168.30,357.70 C169.27,357.60 170.25,359.60 171.20,360.60 C172.15,361.60 173.03,363.60 174.00,363.70 C174.97,363.80 176.03,362.10 177.00,361.20 C177.97,360.30 178.85,358.40 179.80,358.30 C180.75,358.20 181.63,359.97 182.70,360.60 C183.77,361.23 185.05,361.92 186.20,362.10 C187.35,362.28 188.47,361.38 189.60,361.70 C190.73,362.02 191.85,364.00 193.00,364.00 C194.15,364.00 195.33,362.27 196.50,361.70 C197.67,361.13 198.58,360.68 200.00,360.60 C201.42,360.53 203.33,360.85 205.00,361.25 C206.67,361.65 208.12,362.89 210.00,363.00 C211.88,363.11 214.58,362.19 216.25,361.90 C217.92,361.61 218.33,361.36 220.00,361.25 C221.67,361.14 224.38,361.46 226.25,361.25 C228.12,361.04 229.79,360.11 231.25,360.00 C232.71,359.89 233.96,359.98 235.00,360.60 C236.04,361.23 236.46,363.43 237.50,363.75 C238.54,364.07 240.00,362.96 241.25,362.50 C242.50,362.04 243.75,361.42 245.00,361.00 C246.25,360.58 247.33,360.33 248.75,360.00 C250.17,359.67 252.71,359.17 253.50,359.00" fill="none" stroke="#FF8A05" stroke-width="1.9" stroke-linejoin="round" stroke-linecap="round"/>
<line x1="41.05" y1="363.90" x2="253.80" y2="363.90" stroke="#111" stroke-width="1.5"/>
<text x="155.70" y="269.00" font-size="7" text-anchor="start" fill="#111" >Time post injection</text>
<line x1="155.70" y1="270.00" x2="213.80" y2="270.00" stroke="#333" stroke-width="0.7"/>
<line x1="159.20" y1="277.30" x2="175.00" y2="277.30" stroke="#C8163C" stroke-width="1.7"/>
<text x="177.80" y="279.70" font-size="7" text-anchor="start" fill="#111" >Saline (60 min)</text>
<line x1="159.20" y1="286.30" x2="175.00" y2="286.30" stroke="#154A88" stroke-width="1.7"/>
<text x="177.80" y="288.70" font-size="7" text-anchor="start" fill="#111" >10 min</text>
<line x1="159.20" y1="295.30" x2="175.00" y2="295.30" stroke="#3CB64B" stroke-width="1.7"/>
<text x="177.80" y="297.70" font-size="7" text-anchor="start" fill="#111" >20 min</text>
<line x1="159.20" y1="304.20" x2="175.00" y2="304.20" stroke="#481B70" stroke-width="1.7"/>
<text x="177.80" y="306.60" font-size="7" text-anchor="start" fill="#111" >30 min</text>
<line x1="159.20" y1="313.20" x2="175.00" y2="313.20" stroke="#FF8A05" stroke-width="1.7"/>
<text x="177.80" y="315.60" font-size="7" text-anchor="start" fill="#111" >60 min</text>
<path d="M203.0,284.1 H207.6 V315.2 H203.0" fill="none" stroke="#111" stroke-width="1"/>
<text x="209.30" y="302.10" font-size="7" text-anchor="start" fill="#111" >PolyP</text>
<text x="274.90" y="209.00" font-size="11" text-anchor="start" fill="#000" font-weight="bold" >D</text>
<line x1="308.00" y1="214.40" x2="308.00" y2="368.10" stroke="#111" stroke-width="1.7"/>
<line x1="304.50" y1="367.40" x2="308.00" y2="367.40" stroke="#111" stroke-width="1.1"/>
<text x="302.00" y="370.20" font-size="8.5" text-anchor="end" fill="#111" textLength="4.30" lengthAdjust="spacingAndGlyphs" >0</text>
<line x1="304.50" y1="342.02" x2="308.00" y2="342.02" stroke="#111" stroke-width="1.1"/>
<text x="302.00" y="344.82" font-size="8.5" text-anchor="end" fill="#111" textLength="12.90" lengthAdjust="spacingAndGlyphs" >100</text>
<line x1="304.50" y1="316.64" x2="308.00" y2="316.64" stroke="#111" stroke-width="1.1"/>
<text x="302.00" y="319.44" font-size="8.5" text-anchor="end" fill="#111" textLength="12.90" lengthAdjust="spacingAndGlyphs" >200</text>
<line x1="304.50" y1="291.26" x2="308.00" y2="291.26" stroke="#111" stroke-width="1.1"/>
<text x="302.00" y="294.06" font-size="8.5" text-anchor="end" fill="#111" textLength="12.90" lengthAdjust="spacingAndGlyphs" >300</text>
<line x1="304.50" y1="265.88" x2="308.00" y2="265.88" stroke="#111" stroke-width="1.1"/>
<text x="302.00" y="268.68" font-size="8.5" text-anchor="end" fill="#111" textLength="12.90" lengthAdjust="spacingAndGlyphs" >400</text>
<line x1="304.50" y1="240.50" x2="308.00" y2="240.50" stroke="#111" stroke-width="1.1"/>
<text x="302.00" y="243.30" font-size="8.5" text-anchor="end" fill="#111" textLength="12.90" lengthAdjust="spacingAndGlyphs" >500</text>
<line x1="304.50" y1="215.12" x2="308.00" y2="215.12" stroke="#111" stroke-width="1.1"/>
<text x="302.00" y="217.92" font-size="8.5" text-anchor="end" fill="#111" textLength="12.90" lengthAdjust="spacingAndGlyphs" >600</text>
<text class="ttl" transform="translate(281.80,291.10) rotate(-90)" x="0" y="0" font-size="9" text-anchor="middle" fill="#111" textLength="73.2" lengthAdjust="spacingAndGlyphs">Functional PolyP (µg/mL)</text>
<text x="413.00" y="391.90" font-size="9" text-anchor="middle" fill="#111" textLength="95.8" lengthAdjust="spacingAndGlyphs" class="ttl">Time post IP PolyP injection (min)</text>
<line x1="341.50" y1="367.40" x2="341.50" y2="370.40" stroke="#111" stroke-width="1.1"/>
<text x="341.50" y="379.50" font-size="8.5" text-anchor="middle" fill="#111" textLength="4.30" lengthAdjust="spacingAndGlyphs" >0</text>
<line x1="336.20" y1="365.88" x2="336.20" y2="362.83" stroke="#111" stroke-width="1"/>
<line x1="334.20" y1="362.83" x2="338.20" y2="362.83" stroke="#111" stroke-width="1.1"/>
<rect x="333.40" y="365.88" width="5.6" height="1.52" fill="#D3143A" stroke="#111" stroke-width="1"/>
<line x1="346.70" y1="365.37" x2="346.70" y2="360.55" stroke="#111" stroke-width="1"/>
<line x1="344.70" y1="360.55" x2="348.70" y2="360.55" stroke="#111" stroke-width="1.1"/>
<rect x="343.90" y="365.37" width="5.6" height="2.03" fill="#175A95" stroke="#111" stroke-width="1"/>
<line x1="376.00" y1="367.40" x2="376.00" y2="370.40" stroke="#111" stroke-width="1.1"/>
<text x="376.00" y="379.50" font-size="8.5" text-anchor="middle" fill="#111" textLength="8.60" lengthAdjust="spacingAndGlyphs" >10</text>
<line x1="370.70" y1="354.20" x2="370.70" y2="345.83" stroke="#111" stroke-width="1"/>
<line x1="368.70" y1="345.83" x2="372.70" y2="345.83" stroke="#111" stroke-width="1.1"/>
<rect x="367.90" y="354.20" width="5.6" height="13.20" fill="#D3143A" stroke="#111" stroke-width="1"/>
<line x1="381.20" y1="325.02" x2="381.20" y2="319.94" stroke="#111" stroke-width="1"/>
<line x1="379.20" y1="319.94" x2="383.20" y2="319.94" stroke="#111" stroke-width="1.1"/>
<rect x="378.40" y="325.02" width="5.6" height="42.38" fill="#175A95" stroke="#111" stroke-width="1"/>
<line x1="410.40" y1="367.40" x2="410.40" y2="370.40" stroke="#111" stroke-width="1.1"/>
<text x="410.40" y="379.50" font-size="8.5" text-anchor="middle" fill="#111" textLength="8.60" lengthAdjust="spacingAndGlyphs" >20</text>
<line x1="405.10" y1="350.14" x2="405.10" y2="345.07" stroke="#111" stroke-width="1"/>
<line x1="403.10" y1="345.07" x2="407.10" y2="345.07" stroke="#111" stroke-width="1.1"/>
<rect x="402.30" y="350.14" width="5.6" height="17.26" fill="#D3143A" stroke="#111" stroke-width="1"/>
<line x1="415.60" y1="293.29" x2="415.60" y2="285.68" stroke="#111" stroke-width="1"/>
<line x1="413.60" y1="285.68" x2="417.60" y2="285.68" stroke="#111" stroke-width="1.1"/>
<rect x="412.80" y="293.29" width="5.6" height="74.11" fill="#175A95" stroke="#111" stroke-width="1"/>
<line x1="444.60" y1="367.40" x2="444.60" y2="370.40" stroke="#111" stroke-width="1.1"/>
<text x="444.60" y="379.50" font-size="8.5" text-anchor="middle" fill="#111" textLength="8.60" lengthAdjust="spacingAndGlyphs" >30</text>
<line x1="439.30" y1="335.93" x2="439.30" y2="329.84" stroke="#111" stroke-width="1"/>
<line x1="437.30" y1="329.84" x2="441.30" y2="329.84" stroke="#111" stroke-width="1.1"/>
<rect x="436.50" y="335.93" width="5.6" height="31.47" fill="#D3143A" stroke="#111" stroke-width="1"/>
<line x1="449.80" y1="270.19" x2="449.80" y2="258.77" stroke="#111" stroke-width="1"/>
<line x1="447.80" y1="258.77" x2="451.80" y2="258.77" stroke="#111" stroke-width="1.1"/>
<rect x="447.00" y="270.19" width="5.6" height="97.21" fill="#175A95" stroke="#111" stroke-width="1"/>
<line x1="478.60" y1="367.40" x2="478.60" y2="370.40" stroke="#111" stroke-width="1.1"/>
<text x="478.60" y="379.50" font-size="8.5" text-anchor="middle" fill="#111" textLength="8.60" lengthAdjust="spacingAndGlyphs" >60</text>
<line x1="473.30" y1="306.49" x2="473.30" y2="296.84" stroke="#111" stroke-width="1"/>
<line x1="471.30" y1="296.84" x2="475.30" y2="296.84" stroke="#111" stroke-width="1.1"/>
<rect x="470.50" y="306.49" width="5.6" height="60.91" fill="#D3143A" stroke="#111" stroke-width="1"/>
<line x1="483.80" y1="243.55" x2="483.80" y2="232.89" stroke="#111" stroke-width="1"/>
<line x1="481.80" y1="232.89" x2="485.80" y2="232.89" stroke="#111" stroke-width="1.1"/>
<rect x="481.00" y="243.55" width="5.6" height="123.85" fill="#175A95" stroke="#111" stroke-width="1"/>
<line x1="307.20" y1="367.40" x2="513.20" y2="367.40" stroke="#111" stroke-width="1.5"/>
<rect x="313.2" y="222.8" width="15.2" height="3.8" fill="#D3143A" stroke="#111" stroke-width="1"/>
<rect x="313.2" y="236.3" width="15.2" height="3.8" fill="#175A95" stroke="#111" stroke-width="1"/>
<text x="332.20" y="227.20" font-size="7" text-anchor="start" fill="#111" >WT</text>
<text x="332.20" y="240.60" font-size="7" text-anchor="start" fill="#111" >HRG<tspan font-size="4.5" dy="-3">-/-</tspan></text>
<rect x="435.45" y="324.65" width="1.8" height="1.53" rx="0.5" fill="#1a1a1a"/>
<rect x="438.45" y="324.65" width="1.8" height="1.53" rx="0.5" fill="#1a1a1a"/>
<rect x="441.45" y="324.65" width="1.8" height="1.53" rx="0.5" fill="#1a1a1a"/>
<rect x="468.05" y="291.15" width="1.8" height="1.53" rx="0.5" fill="#1a1a1a"/>
<rect x="471.05" y="291.15" width="1.8" height="1.53" rx="0.5" fill="#1a1a1a"/>
<rect x="474.05" y="291.15" width="1.8" height="1.53" rx="0.5" fill="#1a1a1a"/>
<rect x="477.05" y="291.15" width="1.8" height="1.53" rx="0.5" fill="#1a1a1a"/>
<path d="M441.10,249.70L440.50,255.00M442.80,249.70L442.20,255.00M440.40,251.50H443.40M439.80,253.30H443.10M446.10,249.70L445.50,255.00M447.80,249.70L447.20,255.00M445.40,251.50H448.40M444.80,253.30H448.10M451.10,249.70L450.50,255.00M452.80,249.70L452.20,255.00M450.40,251.50H453.40M449.80,253.30H453.10M456.10,249.70L455.50,255.00M457.80,249.70L457.20,255.00M455.40,251.50H458.40M454.80,253.30H458.10" stroke="#2a2a2a" stroke-width="1.15" fill="none"/>
<path d="M475.40,223.80L474.80,229.10M477.10,223.80L476.50,229.10M474.70,225.60H477.70M474.10,227.40H477.40M480.40,223.80L479.80,229.10M482.10,223.80L481.50,229.10M479.70,225.60H482.70M479.10,227.40H482.40M485.40,223.80L484.80,229.10M487.10,223.80L486.50,229.10M484.70,225.60H487.70M484.10,227.40H487.40M490.40,223.80L489.80,229.10M492.10,223.80L491.50,229.10M489.70,225.60H492.70M489.10,227.40H492.40" stroke="#2a2a2a" stroke-width="1.15" fill="none"/>
<rect x="0.5" y="0.5" width="519" height="399" fill="none" stroke="#000" stroke-width="1.3"/>
</svg>
</body></html>
